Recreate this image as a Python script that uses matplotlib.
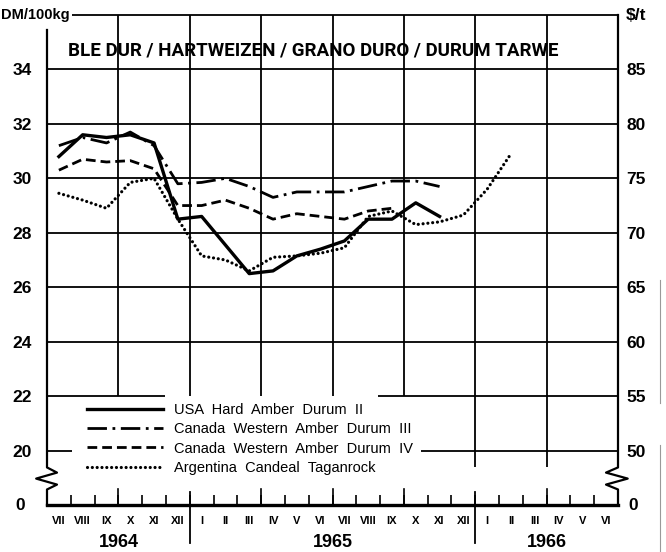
import numpy as np
import matplotlib
matplotlib.use("Agg")
from matplotlib import pyplot as plt
from matplotlib.transforms import blended_transform_factory

# Monthly prices, DM/100kg, from July 1964 onwards (one value per month)
mois = ["VII", "VIII", "IX", "X", "XI", "XII",
        "I", "II", "III", "IV", "V", "VI", "VII", "VIII", "IX", "X", "XI", "XII",
        "I", "II", "III", "IV", "V", "VI"]
annees = ["1964", "1965", "1966"]

usa_hard_amber = [30.8, 31.6, 31.5, 31.6, 31.3, 28.5, 28.6, 27.55, 26.5, 26.6,
                  27.15, 27.4, 27.7, 28.5, 28.5, 29.1, 28.6]
canada_amber_3 = [31.2, 31.5, 31.3, 31.7, 31.2, 29.8, 29.85, 30.0, 29.7, 29.3,
                  29.5, 29.5, 29.5, 29.7, 29.9, 29.9, 29.7]
canada_amber_4 = [30.3, 30.7, 30.6, 30.65, 30.35, 29.0, 29.0, 29.2, 28.9, 28.5,
                  28.7, 28.6, 28.5, 28.8, 28.9]
argentina = [29.45, 29.2, 28.9, 29.85, 30.0, 28.5, 27.15, 27.0, 26.6, 27.1,
             27.15, 27.25, 27.45, 28.6, 28.8, 28.3, 28.4, 28.65, 29.6, 30.9]

labels = ["USA  Hard  Amber  Durum  II",
          "Canada  Western  Amber  Durum  III",
          "Canada  Western  Amber  Durum  IV",
          "Argentina  Candeal  Taganrock"]

num_font = ["Liberation Sans", "DejaVu Sans"]
titre_font = ["DejaVu Sans Condensed", "Roboto", "Liberation Sans"]

fig = plt.figure(figsize=(6.66, 5.52), dpi=100)
ax = fig.add_axes([47 / 666, 47 / 552, 571 / 666, 490 / 552])
ax.set_xlim(0, 24)
ax.set_ylim(18, 36)

def x_mois(vals):
    return np.arange(len(vals)) + 0.5

styles = [
    dict(ls="-", lw=2.4),
    dict(ls=(0, (7, 2, 1, 2)), lw=2.0),
    dict(ls=(0, (3.5, 1.8)), lw=2.0),
    dict(ls=(0, (0.01, 1.5)), lw=2.3, dash_capstyle="round"),
]
handles = []
for vals, st in zip([usa_hard_amber, canada_amber_3, canada_amber_4, argentina], styles):
    h, = ax.plot(x_mois(vals), vals, color="black", zorder=3, **st)
    handles.append(h)

# grille (interrompue autour de la légende)
g = dict(color="black", lw=1.3, zorder=1)
for y in range(24, 36, 2):
    ax.hlines(y, 0, 24, **g)
ax.hlines(22, 0, 4.96, **g)
ax.hlines(22, 13.9, 24, **g)
ax.hlines(20, 0, 1.05, **g)
ax.hlines(20, 15.7, 24, **g)
ax.hlines(36, 1.05, 24, clip_on=False, **g)
for t in [3, 6, 9, 12, 15]:
    ax.vlines(t, 22, 36, **g)
for t in [18, 21]:
    ax.vlines(t, 19.38, 36, **g)

# axes verticaux avec coupure
tr = blended_transform_factory(ax.transAxes, ax.transData)
ax.plot([0, 0, 0.0175, -0.019, 0.0175, 0, 0], [35.45, 19.38, 19.19, 18.97, 18.75, 18.57, 18],
        color="black", lw=1.6, transform=tr, clip_on=False, zorder=4)
ax.plot([1, 1, 0.979, 1.017, 0.979, 1, 1], [36, 19.38, 19.19, 18.97, 18.75, 18.57, 18],
        color="black", lw=1.6, transform=tr, clip_on=False, zorder=4)

for s in ["left", "right", "top"]:
    ax.spines[s].set_visible(False)
ax.spines["bottom"].set_linewidth(2.4)

# axe des mois
ax.set_xticks(np.arange(24) + 0.5)
ax.set_xticklabels(mois, fontsize=8, fontweight="bold", family=num_font)
ax.set_xticks(np.arange(1, 24), minor=True)
ax.tick_params(axis="x", which="major", length=0, pad=8)
ax.tick_params(axis="x", which="minor", direction="in", length=7, width=1.2)
trx = blended_transform_factory(ax.transData, ax.transAxes)
for t in [3, 9, 12, 15, 21]:
    ax.plot([t, t], [0, 0.032], color="black", lw=1.2, transform=trx, clip_on=False)
for t in [6, 18]:
    ax.plot([t, t], [-0.078, 0.026], color="black", lw=1.3, transform=trx, clip_on=False)
for xc, an in zip([3, 12, 21], annees):
    ax.text(xc, -0.076, an, transform=trx, ha="center", va="center",
            fontsize=13, fontweight="bold", family=num_font)

# graduations gauche (DM/100kg) et droite ($/t)
ax.set_yticks(range(20, 35, 2))
ax.set_yticklabels([str(v) for v in range(20, 35, 2)], fontsize=12.5,
                   fontweight="bold", family=num_font)
ax.tick_params(axis="y", length=0, pad=11)
sec = ax.secondary_yaxis("right", functions=(lambda v: v * 2.5, lambda v: v / 2.5))
sec.set_yticks(range(50, 90, 5))
sec.set_yticklabels([str(v) for v in range(50, 90, 5)], fontsize=12.5,
                    fontweight="bold", family=num_font)
sec.tick_params(length=0, pad=6)
sec.spines["right"].set_visible(False)

ax.text(-0.047, 18, "0", transform=tr, ha="center", va="center",
        fontsize=12.5, fontweight="bold", family=num_font)
ax.text(1.026, 18, "0", transform=tr, ha="center", va="center",
        fontsize=12.5, fontweight="bold", family=num_font)

ax.text(1 / 666, 537 / 552, "DM/100kg", transform=fig.transFigure, ha="left",
        va="center", fontsize=10.5, fontweight="bold", family=num_font)
ax.text(626 / 666, 537 / 552, "$/t", transform=fig.transFigure, ha="left",
        va="center", fontsize=12.5, fontweight="bold", family=num_font)

ax.text(0.88, 34.7, "BLE DUR / HARTWEIZEN / GRANO DURO / DURUM TARWE",
        ha="left", va="center", fontsize=13.5, fontweight="bold",
        family=titre_font)

ax.legend(handles, labels, loc="upper left", bbox_to_anchor=(0.07, 0.208),
          frameon=False, borderpad=0, borderaxespad=0, handlelength=5.2,
          handletextpad=0.8, labelspacing=0.36,
          prop=dict(family=num_font, size=10.5))

# traits de scan en bordure
fig.add_artist(plt.Line2D([660 / 666, 660 / 666], [1 - 280 / 552, 1 - 403 / 552],
                          color="0.6", lw=0.8))
fig.add_artist(plt.Line2D([660 / 666, 660 / 666], [1 - 445 / 552, 0],
                          color="0.6", lw=0.8))

fig.savefig("out.png", dpi=100)
